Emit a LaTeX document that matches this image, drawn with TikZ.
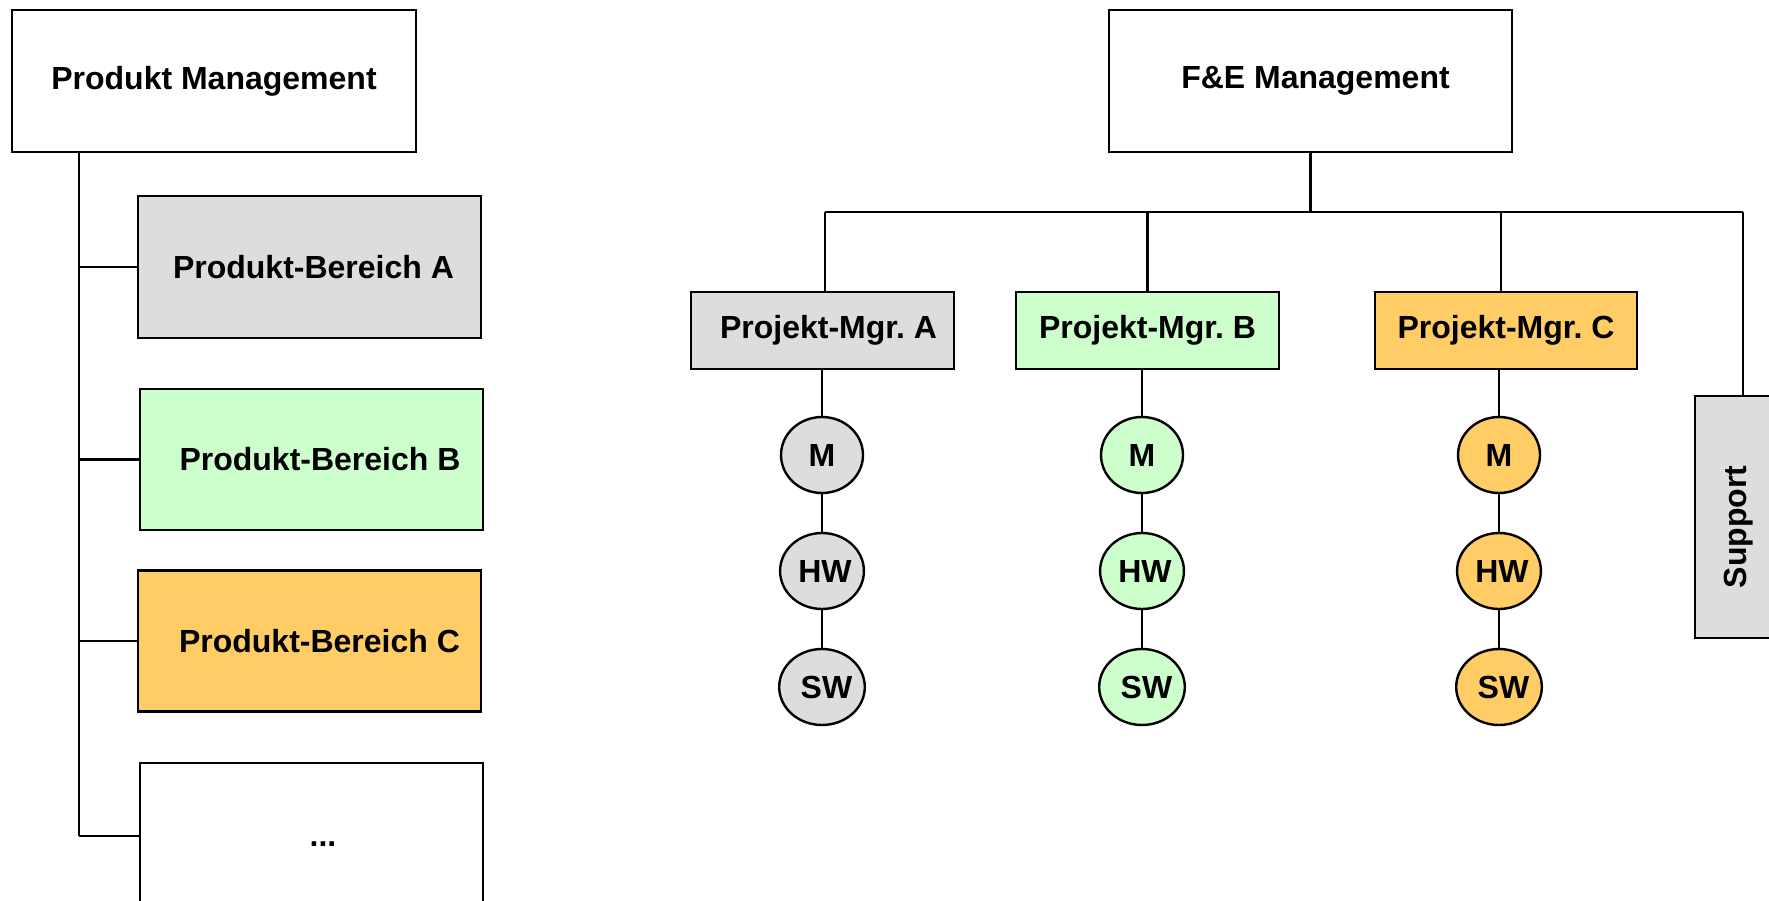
\documentclass[tikz,border=0pt]{standalone}
\usepackage{fontspec}
\setmainfont{Liberation Sans}
\usetikzlibrary{shapes.geometric}
\definecolor{grayfill}{HTML}{DDDDDD}
\definecolor{greenfill}{HTML}{CCFFCC}
\definecolor{orangefill}{HTML}{FFCC66}
\tikzset{
  box/.style={draw=black, line width=2.6pt, rectangle, inner sep=0pt,
    font=\fontsize{32}{37}\selectfont\bfseries},
  circ/.style={draw=black, line width=2.4pt, ellipse, inner sep=0pt,
    minimum width=82pt, minimum height=76pt,
    font=\fontsize{32}{37}\selectfont\bfseries},
  conn/.style={line width=2.8pt, black},
  lbl/.style={font=\fontsize{32}{37}\selectfont\bfseries, inner sep=0pt}
}
\frenchspacing
\begin{document}
\begin{tikzpicture}[x=1pt, y=-1pt]
\useasboundingbox (0,0) rectangle (1769,901);
\clip (0,0) rectangle (1769,901);
\fill[white] (0,0) rectangle (1769,901);

% left hierarchy
\node[box, minimum width=404pt, minimum height=142pt] (pm) at (214,81) {\raisebox{4pt}{Produkt Management}};
\node[box, fill=grayfill, minimum width=343pt, minimum height=142pt] (pba) at (309.5,267) {\hspace*{8pt}Produkt-Bereich A};
\node[box, fill=greenfill, minimum width=343pt, minimum height=141pt] (pbb) at (311.5,459.5) {\hspace*{17pt}Produkt-Bereich B};
\node[box, fill=orangefill, minimum width=343pt, minimum height=141pt] (pbc) at (309.5,641) {\hspace*{20pt}Produkt-Bereich C};
\node[box, minimum width=343pt, minimum height=160pt] (pbd) at (311.5,843) {};
\node[lbl, anchor=base] (dots) at (323,846) {...};

\coordinate (trunktop) at (79,152);
\coordinate (trunkbot) at (79,836);
\draw[conn] (trunktop) -- (trunkbot);
\draw[conn] (pba.west) -- (pba.west -| trunktop);
\draw[conn] (pbb.west) -- (pbb.west -| trunktop);
\draw[conn] (pbc.west) -- (pbc.west -| trunktop);
\draw[conn] (pbd.west |- trunkbot) -- (trunkbot);

% right hierarchy
\node[box, minimum width=403pt, minimum height=142pt] (fe) at (1310.5,81) {\hspace*{10pt}F\&E Management};
\node[box, fill=grayfill, minimum width=263pt, minimum height=77pt] (pma) at (822.5,330.5) {\hspace*{12pt}Projekt-Mgr. A};
\node[box, fill=greenfill, minimum width=263pt, minimum height=77pt] (pmb) at (1147.5,330.5) {Projekt-Mgr. B};
\node[box, fill=orangefill, minimum width=262pt, minimum height=77pt] (pmc) at (1506,330.5) {Projekt-Mgr. C};
\node[box, fill=grayfill, minimum width=100pt, minimum height=242pt] (sup) at (1745,517) {};
\node[lbl, rotate=90] (suptext) at (1739,527) {Support};

\coordinate (busL) at (825,212);
\coordinate (busR) at (1743,212);
\coordinate (busC) at (1501,212);
\draw[conn] (fe.south) -- (fe.south |- busL);
\draw[conn] (busL) -- (busR);
\draw[conn] (busR) -- (busR |- sup.north);
\draw[conn] (pma.north -| busL) -- (busL);
\draw[conn] (pmb.north) -- (pmb.north |- busL);
\draw[conn] (pmc.north -| busC) -- (busC);

% circles
\foreach \col/\x/\f in {a/822/grayfill, b/1142/greenfill, c/1499/orangefill}{
  \node[circ, fill=\f] (m\col) at (\x,455) {M};
  \node[circ, fill=\f] (hw\col) at (\x,571) {\hspace*{6pt}HW};
  \node[circ, fill=\f] (sw\col) at (\x,687) {\hspace*{9pt}SW};
  \draw[conn] (m\col.south) -- (hw\col.north);
  \draw[conn] (hw\col.south) -- (sw\col.north);
}
\draw[conn] (pma.south -| ma) -- (ma.north);
\draw[conn] (pmb.south -| mb) -- (mb.north);
\draw[conn] (pmc.south -| mc) -- (mc.north);
\end{tikzpicture}
\end{document}
